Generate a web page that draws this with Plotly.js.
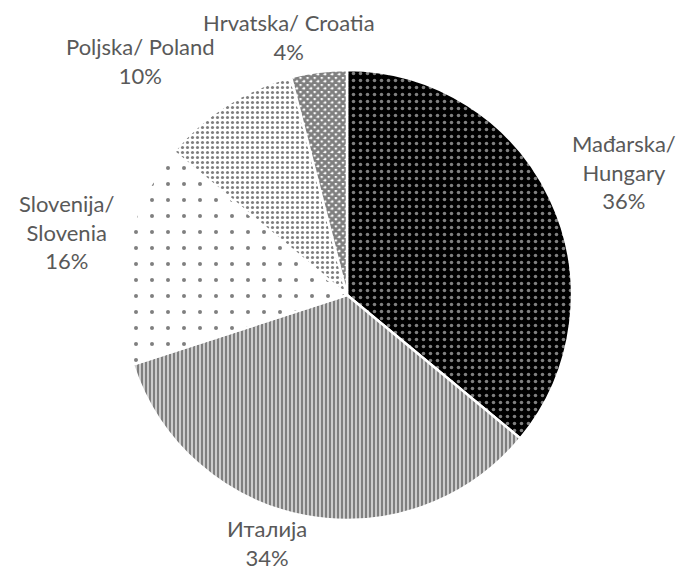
<!DOCTYPE html>
<html><head><meta charset="utf-8">
<script src="https://cdn.plot.ly/plotly-3.0.1.min.js"></script>
<style>html,body{margin:0;padding:0;background:#fff}</style>
</head><body><div id="chart" style="width:678px;height:572px"></div>
<script>
const labels = ["Mađarska/ Hungary", "Италија", "Slovenija/ Slovenia", "Poljska/ Poland", "Hrvatska/ Croatia"];
const displayLabels = ["Mađarska/<br>Hungary", "Италија", "Slovenija/<br>Slovenia", "Poljska/ Poland", "Hrvatska/ Croatia"];
const values = [36, 34, 16, 10, 4];

// label anchor positions (pixels in the 678x572 page)
const labelPx = [[624, 172], [267, 543], [67, 232], [140, 61], [289, 37]];

const W = 678, H = 572;
const M = {l: 122, r: 106, t: 70, b: 52};
const plotW = W - M.l - M.r, plotH = H - M.t - M.b;
const total = values.reduce((a, b) => a + b, 0);

const patterns = {
  shape: [".", "|", ".", ".", "x"],
  bgcolor: ["#000000", "#ffffff", "#ffffff", "#ffffff", "#ffffff"],
  fgcolor: ["#ffffff", "#000000", "#000000", "#000000", "#000000"],
  size: [7, 4, 16, 5, 5],
  solidity: [0.2, 0.7, 0.05, 0.3, 0.8],
  fillmode: "overlay"
};

const data = [{
  type: "pie",
  labels: labels,
  values: values,
  sort: false,
  direction: "clockwise",
  rotation: 0,
  textposition: "none",
  hoverinfo: "label+percent",
  marker: {
    colors: ["#000", "#fff", "#fff", "#fff", "#fff"],
    line: {color: "#ffffff", width: 2.5},
    pattern: patterns
  },
  showlegend: false
}];

const annotations = displayLabels.map((t, i) => ({
  xref: "paper", yref: "paper",
  x: (labelPx[i][0] - M.l) / plotW,
  y: (H - M.b - labelPx[i][1]) / plotH,
  xanchor: "center", yanchor: "middle",
  text: t + "<br>" + Math.round(values[i] / total * 100) + "%",
  showarrow: false,
  align: "center",
  font: {family: "Lato, Liberation Sans, Arial", size: 22, color: "#595959"}
}));

const layout = {
  width: W, height: H,
  margin: M,
  paper_bgcolor: "#fff",
  showlegend: false,
  annotations: annotations
};

Plotly.newPlot("chart", data, layout, {displayModeBar: false, staticPlot: true});
</script></body></html>
